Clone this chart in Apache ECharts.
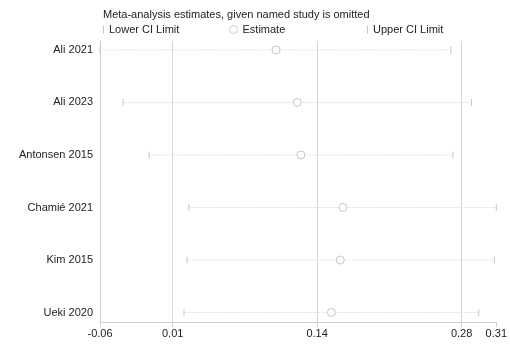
<!DOCTYPE html>
<html>
<head>
<meta charset="utf-8">
<script src="https://cdn.jsdelivr.net/npm/echarts@6/dist/echarts.min.js"></script>
<style>html,body{margin:0;padding:0;background:#fff}#c{width:510px;height:345px}</style>
</head>
<body>
<div id="c"></div>
<script>
var studies = ['Ali 2021', 'Ali 2023', 'Antonsen 2015', 'Chamié 2021', 'Kim 2015', 'Ueki 2020'];
var estimates = [0.1047, 0.1245, 0.1279, 0.1671, 0.1646, 0.1563];
var lowerCI = [-0.0592, -0.0376, -0.0135, 0.0236, 0.0218, 0.0190];
var upperCI = [0.2676, 0.2868, 0.2695, 0.3099, 0.3081, 0.2936];
var overall = [0.0085, 0.1430, 0.2776]; // lower, estimate, upper
var xTickValues = [-0.0592, 0.0085, 0.1430, 0.2776, 0.3099];
var xTickLabels = ['-0.06', '0.01', '0.14', '0.28', '0.31'];

var rows = studies.map(function (s, i) { return i + 1; });
var FONT = 'Liberation Sans, Arial, sans-serif';

function nearestLabel(v) {
  var best = 0, d = Infinity;
  for (var i = 0; i < xTickValues.length; i++) {
    var dd = Math.abs(xTickValues[i] - v);
    if (dd < d) { d = dd; best = i; }
  }
  return xTickLabels[best];
}

var chart = echarts.init(document.getElementById('c'), null, { renderer: 'canvas' });

function capRender(params, api) {
  var p = api.coord([api.value(0), api.value(1)]);
  return {
    type: 'line',
    shape: { x1: p[0], y1: p[1] - 3.5, x2: p[0], y2: p[1] + 3.5 },
    style: { stroke: '#c8c8c8', lineWidth: 1 }
  };
}

var legendText = { fontFamily: FONT, fontSize: 11, color: '#222' };

chart.setOption({
  animation: false,
  backgroundColor: '#fff',
  title: {
    text: 'Meta-analysis estimates, given named study is omitted',
    left: 103, top: 9, padding: 0,
    textStyle: { fontFamily: FONT, fontSize: 11, fontWeight: 'normal', color: '#222' }
  },
  legend: [
    { data: [{ name: 'Lower CI Limit', icon: 'rect', itemStyle: { color: '#c8c8c8', borderWidth: 0 } }],
      left: 103, top: 24, padding: 0, itemWidth: 1, itemHeight: 8, textStyle: legendText },
    { data: [{ name: 'Estimate', icon: 'circle', itemStyle: { color: '#fff', borderColor: '#c0c0c0', borderWidth: 1 } }],
      left: 229, top: 24, padding: 0, itemWidth: 8, itemHeight: 8, textStyle: legendText },
    { data: [{ name: 'Upper CI Limit', icon: 'rect', itemStyle: { color: '#c8c8c8', borderWidth: 0 } }],
      left: 367, top: 24, padding: 0, itemWidth: 1, itemHeight: 8, textStyle: legendText }
  ],
  grid: { left: 100, right: 12, top: 41, bottom: 23, containLabel: false },
  xAxis: {
    type: 'value', min: xTickValues[0], max: xTickValues[xTickValues.length - 1],
    splitLine: { show: false },
    axisLine: { show: true, onZero: false, lineStyle: { color: '#cfcfcf' } },
    axisTick: { show: true, length: 5, customValues: xTickValues, lineStyle: { color: '#cfcfcf' } },
    axisLabel: {
      customValues: xTickValues, formatter: function (v) { return nearestLabel(v); },
      fontFamily: FONT, fontSize: 11, color: '#222', margin: 6
    }
  },
  yAxis: {
    type: 'value', inverse: true, min: 0.83, max: 6.18,
    splitLine: { show: false },
    axisLine: { show: true, onZero: false, lineStyle: { color: '#cfcfcf' } },
    axisTick: { show: false },
    axisLabel: {
      customValues: rows, formatter: function (v) { return studies[Math.round(v) - 1] || ''; },
      fontFamily: FONT, fontSize: 11, color: '#222', margin: 7
    }
  },
  series: [
    {
      type: 'custom', name: 'ci', silent: true, z: 1,
      renderItem: function (params, api) {
        var a = api.coord([api.value(0), api.value(2)]);
        var b = api.coord([api.value(1), api.value(2)]);
        return {
          type: 'line',
          shape: { x1: a[0], y1: a[1], x2: b[0], y2: b[1] },
          style: { stroke: '#d0d0d0', lineWidth: 1, lineDash: [1, 1.5] }
        };
      },
      encode: { x: [0, 1], y: 2 },
      data: rows.map(function (r, i) { return [lowerCI[i], upperCI[i], r]; })
    },
    {
      type: 'custom', name: 'Lower CI Limit', z: 2,
      renderItem: capRender, encode: { x: 0, y: 1 },
      itemStyle: { color: '#c8c8c8' },
      data: rows.map(function (r, i) { return [lowerCI[i], r]; })
    },
    {
      type: 'custom', name: 'Upper CI Limit', z: 2,
      renderItem: capRender, encode: { x: 0, y: 1 },
      itemStyle: { color: '#c8c8c8' },
      data: rows.map(function (r, i) { return [upperCI[i], r]; })
    },
    {
      type: 'scatter', name: 'Estimate', z: 3,
      symbol: 'circle', symbolSize: 8,
      itemStyle: { color: '#fff', borderColor: '#b8b8b8', borderWidth: 1 },
      data: rows.map(function (r, i) { return [estimates[i], r]; }),
      markLine: {
        silent: true, symbol: 'none', label: { show: false }, z: 0, precision: 6,
        lineStyle: { type: 'solid', color: '#d6d6d6', width: 1 },
        data: overall.map(function (v) { return { xAxis: v }; })
      }
    }
  ]
});
</script>
</body>
</html>
